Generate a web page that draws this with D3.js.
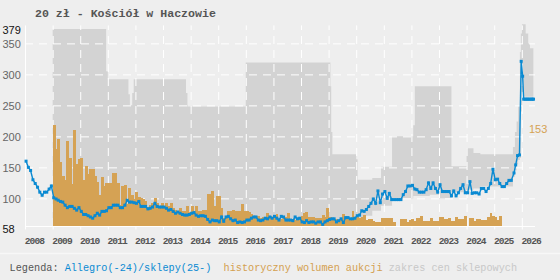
<!DOCTYPE html>
<html lang="pl">
<head>
<meta charset="utf-8">
<title>20 zł - Kościół w Haczowie</title>
<script src="https://cdn.jsdelivr.net/npm/d3@7"></script>
<style>
  body { margin: 0; background: #eeeeee; }
  svg { display: block; }
</style>
</head>
<body>
<svg id="chart" width="560" height="280"></svg>
<script>
// monthly Allegro/shop price, one row per year, starting Jan 2008 (ends Aug 2025)
const prices = [
  160, 150, 145, 130, 124, 118, 110, 105, 110, 110, 115, 120, // 2008
  101, 99, 97, 95, 94, 89, 85, 87, 87, 84, 81, 85,            // 2009
  79, 74, 74, 72, 70, 68, 72, 76, 73, 79, 79, 80,             // 2010
  85, 85, 89, 89, 89, 85, 85, 89, 97, 94, 94, 93,             // 2011
  92, 95, 87, 87, 87, 83, 84, 86, 92, 87, 86, 86,             // 2012
  86, 84, 81, 82, 79, 76, 78, 76, 74, 73, 73, 74,             // 2013
  76, 77, 73, 71, 72, 72, 71, 66, 62, 65, 64, 64,             // 2014
  62, 70, 63, 70, 71, 67, 64, 65, 61, 62, 61, 62,             // 2015
  65, 65, 68, 70, 70, 65, 64, 65, 68, 67, 70, 68,             // 2016
  71, 68, 65, 71, 70, 65, 65, 65, 64, 70, 67, 68,             // 2017
  62, 61, 64, 61, 62, 62, 60, 62, 62, 58, 62, 64,             // 2018
  66, 67, 67, 62, 64, 67, 61, 69, 69, 67, 67, 68,             // 2019
  72, 73, 80, 79, 82, 87, 92, 99, 92, 112, 93, 107,           // 2020
  111, 100, 108, 98, 98, 98, 98, 98, 106, 111, 120, 120,      // 2021
  121, 115, 114, 110, 110, 110, 114, 125, 116, 125, 116, 110, // 2022
  122, 111, 111, 111, 111, 104, 112, 104, 109, 116, 122, 109, // 2023
  109, 127, 108, 109, 109, 107, 116, 116, 111, 116, 124, 147, // 2024
  130, 131, 124, 119, 119, 124, 129, 129                      // 2025
];
// last, denser price points
const tailDates = ["2025-09-20", "2025-10-12", "2025-11-06", "2025-12-01", "2025-12-24", "2026-01-12",
  "2026-01-26", "2026-02-12", "2026-03-01", "2026-03-18", "2026-04-04", "2026-04-21", "2026-05-08", "2026-05-24", "2026-06-05"];
const tailPrices = [141, 154, 169, 170, 321, 297, 260, 260, 260, 260, 260, 260, 260, 260, 260];

// historical auction volume (scaled), monthly from Jan 2009
const volumes = [
  218, 180, 196, 159, 136, 129, 193, 165, 123, 210, 155, 163, // 2009
  165, 129, 152, 140, 148, 148, 136, 127, 106, 134, 120, 124, // 2010
  125, 125, 141, 141, 125, 89, 120, 122, 91, 116, 106, 99,    // 2011
  110, 102, 101, 99, 96, 86, 89, 93, 100, 92, 88, 93,         // 2012
  84, 93, 87, 93, 84, 82, 79, 84, 79, 80, 87, 78,             // 2013
  88, 80, 88, 79, 79, 81, 81, 107, 107, 112, 87, 104,         // 2014
  104, 84, 68, 68, 79, 79, 81, 80, 80, 80, 91, 80,            // 2015
  80, 78, 75, 71, 70, 72, 69, 70, 70, 77, 72, 70,             // 2016
  70, 75, 68, 66, 68, 70, 76, 65, 66, 65, 68, 66,             // 2017
  72, 76, 78, 70, 70, 70, 68, 68, 68, 73, 70, 85,             // 2018
  70, 66, 65, 66, 65, 66, 74, 68, 66, 68, 79, 70,             // 2019
  70, 68, 70, 73, 65, 66, 66, 63, 62, 62, 62, 68,             // 2020
  68, 68, 68, 68, 62, 0, 0, 67, 67, 67, 62, 65,               // 2021
  67, 64, 68, 68, 72, 64, 64, 64, 68, 64, 64, 64,             // 2022
  70, 70, 66, 66, 68, 64, 64, 70, 66, 66, 66, 72,             // 2023
  0, 69, 69, 64, 67, 67, 65, 65, 65, 70, 77, 71,              // 2024
  70, 65, 72                                                  // 2025
];

// shop price range (step changes)
const bandDates = ["2009-01-01", "2010-12-10", "2011-01-01", "2011-10-01", "2011-10-20", "2011-11-20", "2011-12-10",
  "2013-11-01", "2013-11-20", "2016-01-01", "2019-01-25", "2019-02-05", "2019-02-20", "2020-01-01", "2020-01-20",
  "2020-05-01", "2020-08-01", "2020-11-25", "2021-04-20", "2021-09-01", "2022-01-25", "2022-02-15", "2022-09-01",
  "2023-01-01", "2023-06-15", "2024-01-01", "2024-04-01", "2024-07-01", "2025-09-06", "2025-10-02", "2025-10-24",
  "2025-11-14", "2025-12-07", "2025-12-20", "2026-01-03", "2026-02-21", "2026-03-27", "2026-04-19", "2026-06-03"];
const bandHigh = [373, 305, 292, 268, 250, 270, 292, 270, 248, 319, 281, 207, 171, 163, 130,
  130, 133, 151, 200, 200, 218, 281, 281, 281, 152, 181, 173, 171, 183, 207, 224,
  248, 336, 366, 381, 366, 350, 342, 342];
const bandLow = [58, 58, 58, 58, 58, 58, 58, 58, 58, 58, 58, 58, 58, 58, 58,
  72, 80, 88, 96, 100, 104, 104, 106, 100, 110, 114, 116, 119, 135, 145, 155,
  162, 165, 240, 264, 264, 264, 264, 264];

const yTicks = [58, 100, 150, 200, 250, 300, 350, 379];
const yGrid = [100, 150, 200, 250, 300, 350];
const years = d3.range(2008, 2027);
const lastLabel = "153";

const blue = "#0a8ad2", orange = "#d5a254", bandColor = "#d3d3d3";
const parse = d3.timeParse("%Y-%m-%d");

const svg = d3.select("#chart");
const W = 560, H = 280;
const plotL = 25, plotR = 535, plotT = 25.4, plotB = 224.4;
const base = plotB + 1.6;

const x = d3.scaleTime()
  .domain([new Date(2008, 0, 1), new Date(2026, 0, 1)])
  .range([plotL, 521.8]);
const y = d3.scaleLinear().domain([58, 379]).range([plotB, plotT]);

svg.append("rect").attr("width", W).attr("height", H).attr("fill", "#eeeeee");
svg.append("line").attr("x1", 0).attr("x2", W).attr("y1", 253.5).attr("y2", 253.5)
  .attr("stroke", "#f7f7f7").attr("stroke-width", 1.5);

// price range band
const band = bandDates.map((d, i) => ({ date: parse(d), low: bandLow[i], high: bandHigh[i] }));
svg.append("path")
  .datum(band)
  .attr("fill", bandColor)
  .attr("d", d3.area()
    .curve(d3.curveStepAfter)
    .x(d => x(d.date))
    .y0(d => d.low <= 58 ? base : y(d.low))
    .y1(d => y(d.high)));

// grid
svg.append("g")
  .attr("transform", `translate(0,${base})`)
  .call(d3.axisBottom(x).tickValues(years.slice(1).map(yr => new Date(yr, 0, 1)))
    .tickSize(-(base - plotT)).tickFormat(""))
  .call(g => g.select(".domain").remove())
  .selectAll("line").attr("stroke", "#fff").attr("stroke-dasharray", "8,6");

svg.append("g")
  .attr("transform", `translate(${plotL},0)`)
  .call(d3.axisLeft(y).tickValues(yGrid).tickSize(-(plotR - plotL)).tickFormat(""))
  .call(g => g.select(".domain").remove())
  .selectAll("line").attr("stroke", "#fff").attr("stroke-dasharray", "8,6");

// volume bars
svg.append("g")
  .attr("shape-rendering", "crispEdges")
  .selectAll("rect")
  .data(volumes.map((v, i) => ({ i, v })).filter(d => d.v > 0))
  .join("rect")
  .attr("x", d => x(new Date(2009, d.i, 1)))
  .attr("width", d => x(new Date(2009, d.i + 1, 1)) - x(new Date(2009, d.i, 1)) + 0.6)
  .attr("y", d => y(d.v))
  .attr("height", d => base - y(d.v))
  .attr("fill", orange);

// axis lines
svg.append("line").attr("x1", plotL + 0.5).attr("x2", plotL + 0.5).attr("y1", plotT).attr("y2", base + 0.5)
  .attr("stroke", "#fff");
svg.append("line").attr("x1", plotL).attr("x2", plotR).attr("y1", base + 0.5).attr("y2", base + 0.5)
  .attr("stroke", "#fff");

// x axis
const xAxis = svg.append("g")
  .attr("transform", `translate(0,${base})`)
  .call(d3.axisBottom(x).tickValues(years.map(yr => new Date(yr, 0, 1)))
    .tickSize(3.5).tickSizeOuter(0).tickFormat(d3.timeFormat("%Y")));
xAxis.select(".domain").remove();
xAxis.selectAll("line").attr("stroke", "#fff");
xAxis.selectAll("text")
  .attr("text-anchor", "start")
  .attr("x", -0.8)
  .attr("y", 17.6)
  .attr("dy", null)
  .attr("fill", "#555")
  .attr("font-family", "Liberation Mono, monospace")
  .attr("font-weight", "bold")
  .attr("font-size", 9.6)
  .attr("letter-spacing", -0.9);

// y axis labels
const yAxis = svg.append("g")
  .attr("transform", `translate(${plotL},0)`)
  .call(d3.axisLeft(y).tickValues(yTicks).tickSize(0));
yAxis.select(".domain").remove();
yAxis.selectAll("text")
  .attr("text-anchor", "start")
  .attr("x", -22.5)
  .attr("dy", d => (d === 58 || d === 379) ? "0.7em" : "0.35em")
  .attr("fill", d => (d === 58 || d === 379) ? "#111" : "#666")
  .attr("font-family", "Liberation Sans, Arial, sans-serif")
  .attr("font-size", 11);

// price line
const pts = prices.map((v, i) => ({ date: new Date(2008, i, 15), v }))
  .concat(tailDates.map((d, i) => ({ date: parse(d), v: tailPrices[i] })));
svg.append("path")
  .datum(pts)
  .attr("fill", "none")
  .attr("stroke", blue)
  .attr("stroke-width", 1.4)
  .attr("d", d3.line().x(d => x(d.date)).y(d => y(d.v)));
svg.append("g")
  .selectAll("rect")
  .data(pts)
  .join("rect")
  .attr("x", d => x(d.date) - 1.5)
  .attr("y", d => y(d.v) - 1.5)
  .attr("width", 3)
  .attr("height", 3)
  .attr("fill", blue);

svg.append("text")
  .attr("x", 529).attr("y", 132.7)
  .attr("fill", orange)
  .attr("font-family", "Liberation Sans, Arial, sans-serif")
  .attr("font-size", 11)
  .text(lastLabel);

// title
svg.append("text")
  .attr("x", 35).attr("y", 16.6)
  .attr("fill", "#555")
  .attr("font-family", "Liberation Mono, monospace")
  .attr("font-weight", "bold")
  .attr("font-size", 11.6)
  .text("20 zł - Kościół w Haczowie");

// legend
const legend = svg.append("text")
  .attr("x", 9.6).attr("y", 271)
  .attr("font-family", "Liberation Mono, monospace")
  .attr("font-size", 10.2)
  .style("white-space", "pre");
legend.append("tspan").attr("fill", "#555").text("Legenda: ");
legend.append("tspan").attr("fill", blue).text("Allegro(-24)/sklepy(25-)");
legend.append("tspan").attr("fill", "#d4a050").text("  historyczny wolumen aukcji");
legend.append("tspan").attr("fill", "#c8c8c8").text(" zakres cen sklepowych");
</script>
</body>
</html>
